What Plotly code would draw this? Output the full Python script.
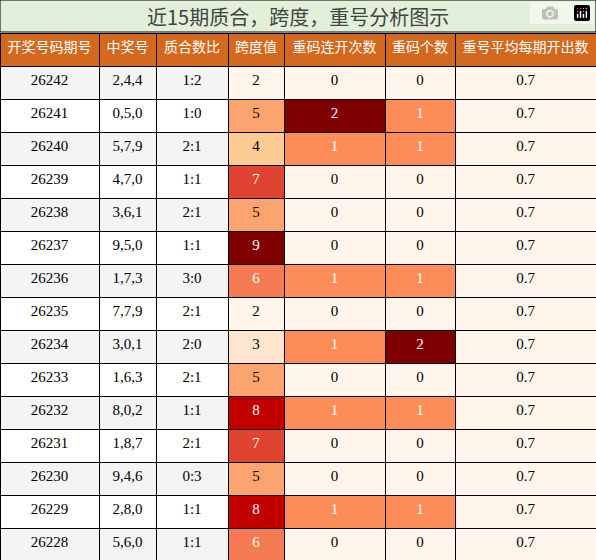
import plotly.graph_objects as go

periods = ["26242", "26241", "26240", "26239", "26238", "26237", "26236", "26235",
           "26234", "26233", "26232", "26231", "26230", "26229", "26228"]
numbers = ["2,4,4", "0,5,0", "5,7,9", "4,7,0", "3,6,1", "9,5,0", "1,7,3", "7,7,9",
           "3,0,1", "1,6,3", "8,0,2", "1,8,7", "9,4,6", "2,8,0", "5,6,0"]
ratios = ["1:2", "1:0", "2:1", "1:1", "2:1", "1:1", "3:0", "2:1",
          "2:0", "2:1", "1:1", "2:1", "0:3", "1:1", "1:1"]
spans = [2, 5, 4, 7, 5, 9, 6, 2, 3, 5, 8, 7, 5, 8, 6]
repeat_streak = [0, 2, 1, 0, 0, 0, 1, 0, 1, 0, 1, 0, 0, 1, 0]
repeat_count = [0, 1, 1, 0, 0, 0, 1, 0, 2, 0, 1, 0, 0, 1, 0]
avg_repeat = ["0.7"] * 15
headers = ["开奖号码期号", "中奖号", "质合数比", "跨度值", "重码连开次数", "重码个数", "重号平均每期开出数"]
title = "近15期质合，跨度，重号分析图示"

span_colors = {2: "#fff5eb", 3: "#fee6ce", 4: "#fdcb94", 5: "#fca46f", 6: "#f47b53",
               7: "#e0432f", 8: "#c20000", 9: "#7f0000"}
rep_colors = {0: "#fff5eb", 1: "#fc8d59", 2: "#7f0000"}

stripe = ["#f4f4f4" if i % 2 == 0 else "white" for i in range(15)]
fill = [stripe, stripe, stripe,
        [span_colors[v] for v in spans],
        [rep_colors[v] for v in repeat_streak],
        [rep_colors[v] for v in repeat_count],
        ["#fff5eb"] * 15]
fcol = [["black"] * 15] * 3 + [
    ["white" if v >= 6 else "black" for v in spans],
    ["white" if v > 0 else "black" for v in repeat_streak],
    ["white" if v > 0 else "black" for v in repeat_count],
    ["black"] * 15]

fig = go.Figure(go.Table(
    columnwidth=[99, 57, 72, 56, 101, 70, 141],
    header=dict(values=headers, fill_color="#d2691e", height=33,
                line=dict(color="black", width=1),
                font=dict(color="white", size=14, family="Noto Sans CJK SC"),
                align="center"),
    cells=dict(values=[periods, numbers, ratios, spans, repeat_streak, repeat_count, avg_repeat],
               fill_color=fill, height=33, line=dict(color="black", width=1),
               font=dict(color=fcol, size=15, family="Liberation Serif"),
               align="center"),
    domain=dict(x=[0, 1], y=[0, 527 / 560]),
))
fig.add_shape(type="rect", xref="paper", yref="paper", x0=0, x1=1, y0=528 / 560, y1=1,
              fillcolor="#e2efd9", line=dict(color="black", width=1))
fig.add_annotation(text=title, xref="paper", yref="paper", x=0.5, y=544 / 560,
                   yanchor="middle", xanchor="center", showarrow=False,
                   font=dict(size=20, color="#444444", family="Noto Sans CJK SC"))
fig.update_layout(width=596, height=560, margin=dict(l=0, r=0, t=0, b=0),
                  paper_bgcolor="white")
fig.write_html("out.html", post_script="document.body.style.margin='0';")
